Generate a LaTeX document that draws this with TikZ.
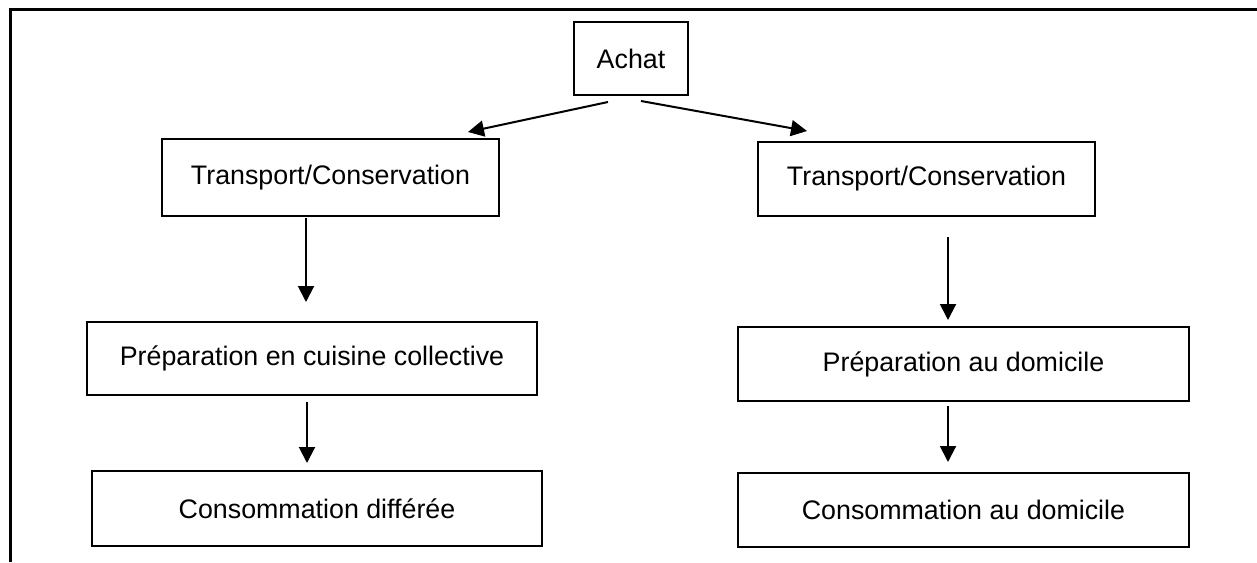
\documentclass[tikz,border=0pt]{standalone}
\usepackage{fontspec}
\setmainfont{Liberation Sans}
\usetikzlibrary{calc,arrows.meta}
\begin{document}
\begin{tikzpicture}[x=0.5pt,y=-0.5pt,
  box/.style={draw=black,line width=1pt,inner sep=0pt,align=center,
    font=\fontsize{13.4}{16}\selectfont},
  conn/.style={line width=1pt,-{Triangle[length=8pt,width=8pt]}},
  frameline/.style={line width=1.5pt}]
\useasboundingbox (0,0) rectangle (1257,562);
\coordinate (f1) at (10,9);
\coordinate (f2) at (1257,9);
\coordinate (f3) at (10,562);
\draw[frameline] (f3) -- (f1) -- (f2);
\node[box,minimum width=57pt,minimum height=36.5pt] (A) at (631,58.5) {Achat};
\node[box,minimum width=168.5pt,minimum height=38.5pt] (T1) at (330.5,177.5) {Transport/Conservation};
\node[box,minimum width=168.5pt,minimum height=37pt] (T2) at (926.5,179) {Transport/Conservation};
\node[box,minimum width=225pt,minimum height=36.5pt] (P1) at (312,358.5) {Préparation en cuisine collective};
\node[box,minimum width=225.5pt,minimum height=37pt] (P2) at (963.5,364) {Préparation au domicile};
\node[box,minimum width=225pt,minimum height=37.5pt] (C1) at (317,508.5) {Consommation différée};
\node[box,minimum width=225.5pt,minimum height=37pt] (C2) at (963.5,510) {Consommation au domicile};
\draw[conn] ($(A.south)+(-23,6)$) -- ($(T1.north)+(137.5,-6)$);
\draw[conn] ($(A.south)+(10,5)$) -- ($(T2.north)+(-119.5,-10)$);
\draw[conn] ($(T1.south)+(-24.5,1)$) -- ($(P1.north)+(-6,-19)$);
\draw[conn] ($(T2.south)+(21.5,20)$) -- ($(P2.north)+(-15.5,-6)$);
\draw[conn] ($(P1.south)+(-5,6)$) -- ($(C1.north)+(-10,-7)$);
\draw[conn] ($(P2.south)+(-15.5,4)$) -- ($(C2.north)+(-15.5,-10)$);
\end{tikzpicture}
\end{document}
